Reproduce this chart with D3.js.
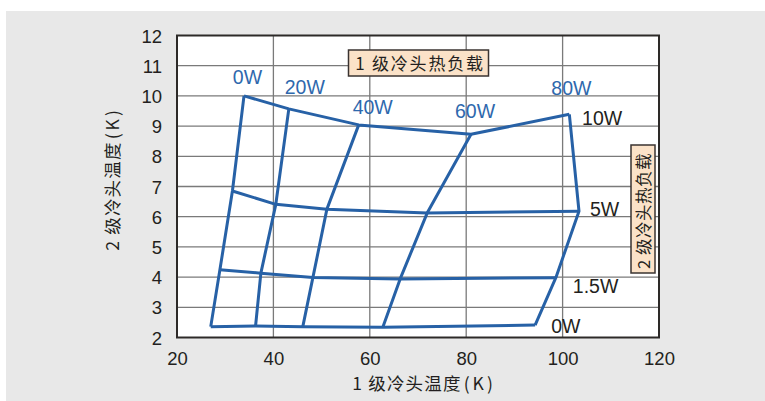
<!DOCTYPE html>
<html><head><meta charset="utf-8">
<script src="https://cdn.jsdelivr.net/npm/d3@7"></script>
<style>
html,body{margin:0;padding:0;background:#fff;}
svg{display:block;}
text{font-family:"Liberation Sans",Arial,sans-serif;}
.cjk{font-family:"Noto Sans CJK SC","Noto Sans",sans-serif;}
</style></head>
<body>
<svg id="c" width="765" height="401"></svg>
<script>
// Data
const stage1Loads = ["0W", "20W", "40W", "60W", "80W"];     // 1st stage heat load (columns)
const stage2Loads = ["0W", "1.5W", "5W", "10W"];            // 2nd stage heat load (rows)
// 1st stage temperature (K) for [stage2 row][stage1 col]
const temp1_0W   = [27.0, 36.3, 46.1, 62.7, 94.3];
const temp1_1p5W = [28.9, 37.4, 48.2, 66.3, 98.6];
const temp1_5W   = [31.5, 40.5, 51.1, 71.9, 103.4];
const temp1_10W  = [33.9, 43.2, 57.7, 81.0, 101.4];
// 2nd stage temperature (K)
const temp2_0W   = [2.36, 2.38, 2.36, 2.34, 2.41];
const temp2_1p5W = [4.24, 4.13, 3.99, 3.94, 3.98];
const temp2_5W   = [6.85, 6.41, 6.25, 6.12, 6.18];
const temp2_10W  = [10.0, 9.57, 9.04, 8.73, 9.39];
const xTicks = [20, 40, 60, 80, 100, 120];
const yTicks = [2, 3, 4, 5, 6, 7, 8, 9, 10, 11, 12];
const xTitle = "1 级冷头温度";
const yTitle = "2 级冷头温度";
const unitText = "(K)";
const box1Text = "1 级冷头热负载";
const box2Text = "2 级冷头热负载";

const T1 = [temp1_0W, temp1_1p5W, temp1_5W, temp1_10W];
const T2 = [temp2_0W, temp2_1p5W, temp2_5W, temp2_10W];

const svg = d3.select("#c");
const L = 177, R = 659, Tp = 35.5, B = 337.5;
const x = d3.scaleLinear().domain([20, 120]).range([L, R]);
const y = d3.scaleLinear().domain([2, 12]).range([B, Tp]);

// backgrounds
svg.append("rect").attr("x", 0).attr("y", 0).attr("width", 765).attr("height", 401).attr("fill", "#fff");
svg.append("rect").attr("x", 6).attr("y", 11).attr("width", 759).attr("height", 390).attr("fill", "#e8e8e8");
svg.append("rect").attr("x", L).attr("y", Tp).attr("width", R - L).attr("height", B - Tp).attr("fill", "#fff");

// grid
const g = svg.append("g");
g.selectAll("line.gx").data(xTicks.slice(1, -1)).enter().append("line")
  .attr("x1", d => x(d)).attr("x2", d => x(d)).attr("y1", Tp).attr("y2", B)
  .attr("stroke", "#7a7a7a").attr("stroke-width", 1.3);
g.selectAll("line.gy").data(yTicks.slice(1, -1)).enter().append("line")
  .attr("y1", d => y(d)).attr("y2", d => y(d)).attr("x1", L).attr("x2", R)
  .attr("stroke", "#7a7a7a").attr("stroke-width", 1.3);

// axes labels
const xAxis = d3.axisBottom(x).tickValues(xTicks).tickSize(0).tickPadding(0);
const xg = svg.append("g").attr("transform", `translate(0,${B})`).call(xAxis);
xg.select(".domain").remove();
xg.selectAll("text").attr("dy", null).attr("y", 27).attr("font-size", 18.5).attr("fill", "#231f20")
  .attr("font-family", "Liberation Sans, Arial, sans-serif");
const yAxis = d3.axisLeft(y).tickValues(yTicks).tickSize(0).tickPadding(0);
const yg = svg.append("g").attr("transform", `translate(${L - 15},0)`).call(yAxis);
yg.select(".domain").remove();
yg.selectAll("text").attr("dy", "0.36em").attr("x", 0).attr("font-size", 18.5).attr("fill", "#231f20")
  .attr("font-family", "Liberation Sans, Arial, sans-serif");

// titles
const xt = svg.append("text").attr("class", "cjk").attr("x", 424).attr("y", 390).attr("text-anchor", "middle")
  .attr("font-size", 17.5).attr("fill", "#231f20");
xt.append("tspan").attr("letter-spacing", 1.2).text(xTitle);
xt.append("tspan").attr("dx", 2).attr("letter-spacing", 3).text(unitText);
const yt = svg.append("text").attr("class", "cjk").attr("transform", "translate(119,179) rotate(-90)")
  .attr("text-anchor", "middle").attr("font-size", 17.5).attr("fill", "#231f20");
yt.append("tspan").attr("letter-spacing", 1.2).text(yTitle);
yt.append("tspan").attr("dx", 2).attr("letter-spacing", 3).text(unitText);

// curves
const blue = "#2761a6";
const line = d3.line().x(d => x(d[0])).y(d => y(d[1]));
// rows: constant 2nd stage load
stage2Loads.forEach((s, i) => {
  const pts = T1[i].map((v, j) => [v, T2[i][j]]);
  svg.append("path").attr("d", line(pts)).attr("fill", "none").attr("stroke", blue)
    .attr("stroke-width", 3).attr("stroke-linejoin", "round");
});
// columns: constant 1st stage load
stage1Loads.forEach((s, j) => {
  const pts = stage2Loads.map((_, i) => [T1[i][j], T2[i][j]]);
  svg.append("path").attr("d", line(pts)).attr("fill", "none").attr("stroke", blue)
    .attr("stroke-width", 3).attr("stroke-linejoin", "round");
});

// plot border
svg.append("rect").attr("x", L).attr("y", Tp).attr("width", R - L).attr("height", B - Tp)
  .attr("fill", "none").attr("stroke", "#2d2a28").attr("stroke-width", 2);

// stage1 load labels (blue) above the 10W row, pixel offsets from the point
const s1dx = [3.5, 16, 14, 4, 2];
const s1dy = [-12, -15, -11, -16, -19];
stage1Loads.forEach((s, j) => {
  svg.append("text").attr("x", x(T1[3][j]) + s1dx[j]).attr("y", y(T2[3][j]) + s1dy[j])
    .attr("text-anchor", "middle").attr("font-size", 19.5).attr("fill", "#2e68ad").text(s);
});
// stage2 load labels (black) at right of rows
const s2dx = [16, 17, 11, 12.7];
const s2dy = [8, 15, 5, 11];
stage2Loads.forEach((s, i) => {
  svg.append("text").attr("x", x(T1[i][4]) + s2dx[i]).attr("y", y(T2[i][4]) + s2dy[i])
    .attr("text-anchor", "start").attr("font-size", 19.5).attr("fill", "#231f20").text(s);
});

// legend boxes
svg.append("rect").attr("x", 348.5).attr("y", 50).attr("width", 140).attr("height", 26)
  .attr("fill", "#fbe2c8").attr("stroke", "#3a3330").attr("stroke-width", 1.5);
svg.append("text").attr("class", "cjk").attr("x", 420).attr("y", 69.5).attr("text-anchor", "middle")
  .attr("font-size", 17).attr("letter-spacing", 1.8).attr("fill", "#231f20").text(box1Text);
svg.append("rect").attr("x", 631).attr("y", 145).attr("width", 24).attr("height", 128)
  .attr("fill", "#fbe2c8").attr("stroke", "#3a3330").attr("stroke-width", 1.5);
svg.append("text").attr("class", "cjk").attr("transform", "translate(650,211) rotate(-90)").attr("text-anchor", "middle")
  .attr("font-size", 16.5).attr("letter-spacing", 0.5).attr("fill", "#231f20").text(box2Text);
</script>
</body></html>
